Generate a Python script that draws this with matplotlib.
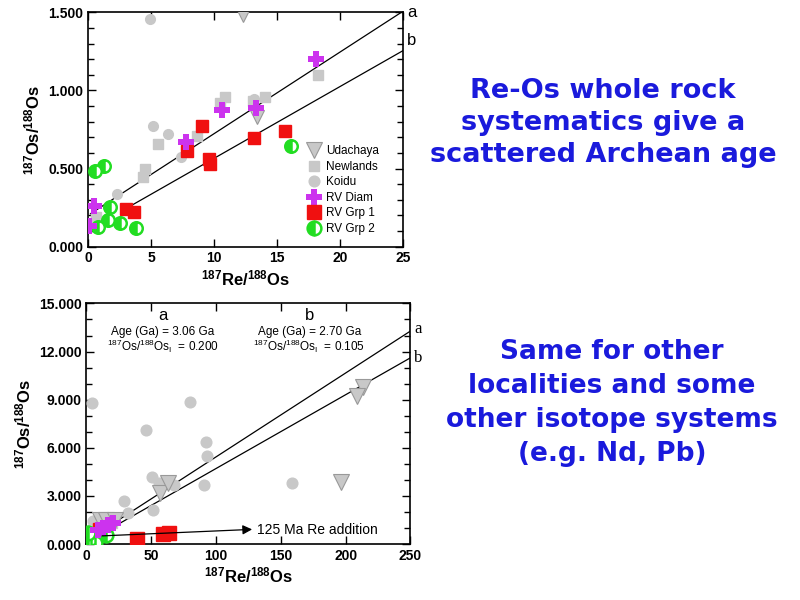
import numpy as np
import matplotlib
matplotlib.use('Agg')
import matplotlib.pyplot as plt
from matplotlib.ticker import MultipleLocator, FormatStrFormatter

plt.rcParams['font.family'] = ['Liberation Sans', 'DejaVu Sans']
plt.rcParams['mathtext.default'] = 'regular'

# ---- top panel data (Re-Os whole rock) ----
uda_x = [12.3, 13.4]
uda_y = [1.48, 0.83]
newl_x = [10.85, 10.5, 5.56, 8.65, 4.5, 4.37, 18.25, 14.0, 13.1, 0.66]
newl_y = [0.956, 0.92, 0.657, 0.71, 0.50, 0.444, 1.10, 0.956, 0.93, 0.19]
koidu_x = [4.9, 5.16, 6.38, 7.4, 2.3, 13.2]
koidu_y = [1.455, 0.774, 0.72, 0.576, 0.335, 0.943]
diam_x = [18.1, 10.6, 13.3, 7.8, 0.45, 0.08]
diam_y = [1.20, 0.875, 0.89, 0.672, 0.26, 0.13]
grp1_x = [9.07, 7.86, 9.6, 9.7, 13.2, 15.6, 3.04, 3.65]
grp1_y = [0.774, 0.614, 0.56, 0.53, 0.693, 0.74, 0.239, 0.22]
grp2_x = [0.58, 1.27, 16.1, 1.72, 1.6, 0.8, 2.5, 3.8]
grp2_y = [0.484, 0.518, 0.646, 0.256, 0.17, 0.128, 0.149, 0.122]

# ---- bottom panel data (other localities) ----
uda2_x = [213.5, 208.8, 196.8, 56.6, 63.0, 10.3, 15.4, 21.9]
uda2_y = [9.8, 9.22, 3.88, 3.2, 3.78, 1.5, 1.5, 1.5]
koidu2_x = [4.6, 45.8, 80.2, 92.6, 93.1, 90.5, 158.4, 50.9, 56.1, 67.4, 51.4, 28.8, 32.1, 5.1, 12.0]
koidu2_y = [8.77, 7.1, 8.87, 6.38, 5.5, 3.68, 3.82, 4.16, 3.82, 3.68, 2.12, 2.7, 1.95, 1.45, 1.2]
newl2_x = [8.0, 14.0, 20.0]
newl2_y = [1.2, 1.4, 1.3]
diam2_x = [16.7, 20.6, 12.9, 9.0]
diam2_y = [1.18, 1.29, 0.98, 0.87]
grp1b_x = [39.1, 59.2, 63.8, 10.3]
grp1b_y = [0.29, 0.6, 0.7, 0.87]
grp2b_x = [1.3, 3.9, 15.4, 1.3, 6.4]
grp2b_y = [0.15, 0.35, 0.56, 0.66, 0.04]

# isochron parameters
lam = 1.666e-11
age_a, init_a = 3.06e9, 0.200
age_b, init_b = 2.70e9, 0.105

gray = '#c8c8c8'
red = '#f01010'
mag = '#cc33ee'
green = '#22dd22'
blue = '#1a1adc'


def isochron(x, age, init):
    return init + x * (np.exp(lam * age) - 1)


def draw_points(ax, scale, data):
    ux, uy, nx, ny, kx, ky, dx, dy, g1x, g1y, g2x, g2y = data
    ax.plot(nx, ny, 's', color=gray, ms=7 * scale, mec=gray, label='Newlands', zorder=3)
    ax.plot(kx, ky, 'o', color=gray, ms=7 * scale, mec=gray, label='Koidu', zorder=3)
    ax.plot(ux, uy, 'v', color=gray, ms=10 * scale, mec='#999999', mew=0.8, label='Udachaya', zorder=3)
    ax.plot(g1x, g1y, 's', color=red, ms=9 * scale, mec=red, label='RV Grp 1', zorder=4)
    ax.plot(g2x, g2y, 'o', color=green, ms=9 * scale, mec=green, mew=1.8, fillstyle='left',
            markerfacecoloralt='white', label='RV Grp 2', zorder=4)
    ax.plot(dx, dy, 'P', color=mag, ms=11 * scale, mec=mag, mew=0, label='RV Diam', zorder=5)


def style_axes(ax):
    ax.tick_params(which='both', direction='in', top=True, right=True, labelsize=10, width=1)
    ax.tick_params(which='major', length=6)
    ax.tick_params(which='minor', length=4)
    for lab in ax.get_xticklabels() + ax.get_yticklabels():
        lab.set_fontweight('bold')
    for s in ax.spines.values():
        s.set_linewidth(1.2)


fig = plt.figure(figsize=(8, 6), dpi=100)

# ---------------- top ----------------
ax1 = fig.add_axes([0.110, 0.589, 0.394, 0.3905])
xa = np.linspace(0.2, 25, 50)
xb = np.linspace(2.9, 25, 50)
ax1.plot(xa, isochron(xa, age_a, init_a), color='black', lw=0.9, zorder=2)
ax1.plot(xb, isochron(xb, age_b, init_b), color='black', lw=0.9, zorder=2)
draw_points(ax1, 1.0, [uda_x, uda_y, newl_x, newl_y, koidu_x, koidu_y,
                       diam_x, diam_y, grp1_x, grp1_y, grp2_x, grp2_y])
ax1.set_xlim(0, 25)
ax1.set_ylim(0, 1.5)
ax1.xaxis.set_major_locator(MultipleLocator(5))
ax1.yaxis.set_major_locator(MultipleLocator(0.5))
ax1.yaxis.set_minor_locator(MultipleLocator(0.1))
ax1.yaxis.set_major_formatter(FormatStrFormatter('%.3f'))
ax1.set_xlabel('$^{187}$Re/$^{188}$Os', fontsize=12, fontweight='bold', labelpad=2)
ax1.set_ylabel('$^{187}$Os/$^{188}$Os', fontsize=12, fontweight='bold', labelpad=4)
style_axes(ax1)
h, l = ax1.get_legend_handles_labels()
order = ['Udachaya', 'Newlands', 'Koidu', 'RV Diam', 'RV Grp 1', 'RV Grp 2']
hh = [h[l.index(o)] for o in order]
leg = ax1.legend(hh, order, loc='lower right', bbox_to_anchor=(0.945, 0.02), frameon=False,
                 fontsize=8.5, handletextpad=0.4, labelspacing=0.3, handlelength=1.2,
                 borderaxespad=0.2, markerscale=1.1)
ax1.text(25.3, 1.5, 'a', fontsize=12, va='center', ha='left', clip_on=False)
ax1.text(25.3, 1.32, 'b', fontsize=12, va='center', ha='left', clip_on=False)

# ---------------- bottom ----------------
ax2 = fig.add_axes([0.108, 0.0933, 0.405, 0.401])
xa2 = np.linspace(18, 250, 50)
xb2 = np.linspace(24, 250, 50)
ax2.plot(xa2, isochron(xa2, age_a, init_a), color='black', lw=0.9, zorder=2)
ax2.plot(xb2, isochron(xb2, age_b, init_b), color='black', lw=0.9, zorder=2)
draw_points(ax2, 1.1, [uda2_x, uda2_y, newl2_x, newl2_y, koidu2_x, koidu2_y,
                       diam2_x, diam2_y, grp1b_x, grp1b_y, grp2b_x, grp2b_y])
ax2.annotate('', xy=(130, 0.92), xytext=(10, 0.5),
             arrowprops=dict(arrowstyle='-|>', color='black', lw=0.9, mutation_scale=14), zorder=6)
ax2.text(132, 0.9, '125 Ma Re addition', fontsize=10, va='center', ha='left')
ax2.text(59, 14.25, 'a', fontsize=12, ha='center', va='center')
ax2.text(59, 13.2, 'Age (Ga) = 3.06 Ga', fontsize=8.5, ha='center', va='center')
ax2.text(59, 12.3, '$^{187}$Os/$^{188}$Os$_{I}$  = 0.200', fontsize=8.5, ha='center', va='center')
ax2.text(172, 14.25, 'b', fontsize=12, ha='center', va='center')
ax2.text(172, 13.2, 'Age (Ga) = 2.70 Ga', fontsize=8.5, ha='center', va='center')
ax2.text(172, 12.3, '$^{187}$Os/$^{188}$Os$_{I}$  = 0.105', fontsize=8.5, ha='center', va='center')
ax2.text(253, 13.4, 'a', fontsize=12, family='Liberation Serif', va='center', ha='left', clip_on=False)
ax2.text(253, 11.6, 'b', fontsize=12, family='Liberation Serif', va='center', ha='left', clip_on=False)
ax2.set_xlim(0, 250)
ax2.set_ylim(0, 15)
ax2.xaxis.set_major_locator(MultipleLocator(50))
ax2.yaxis.set_major_locator(MultipleLocator(3))
ax2.yaxis.set_minor_locator(MultipleLocator(1))
ax2.yaxis.set_major_formatter(FormatStrFormatter('%.3f'))
ax2.set_xlabel('$^{187}$Re/$^{188}$Os', fontsize=12, fontweight='bold', labelpad=2)
ax2.set_ylabel('$^{187}$Os/$^{188}$Os', fontsize=12, fontweight='bold', labelpad=4)
style_axes(ax2)

# ---------------- slide captions ----------------
fig.text(0.754, 0.795, 'Re-Os whole rock\nsystematics give a\nscattered Archean age',
         ha='center', va='center', fontsize=19.5, fontweight='bold', color=blue,
         linespacing=1.3, family='DejaVu Sans')
fig.text(0.765, 0.329, 'Same for other\nlocalities and some\nother isotope systems\n(e.g. Nd, Pb)',
         ha='center', va='center', fontsize=19, fontweight='bold', color=blue,
         linespacing=1.4, family='DejaVu Sans')

fig.savefig('out.png', dpi=100)
